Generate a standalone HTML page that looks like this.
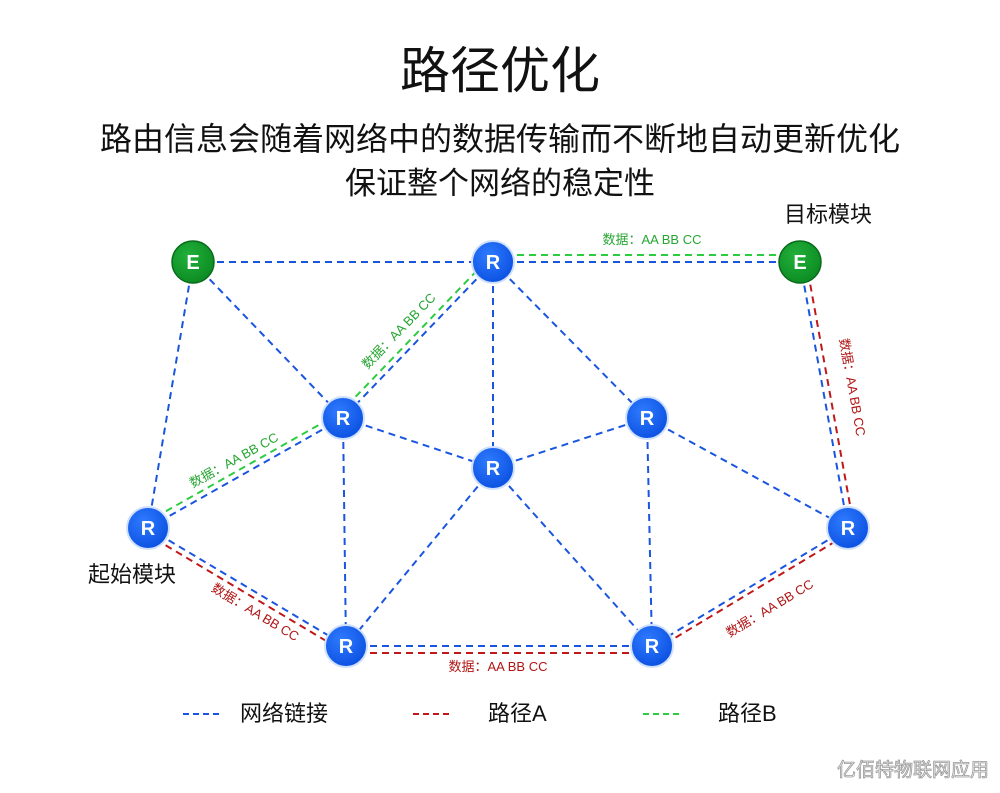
<!DOCTYPE html>
<html><head><meta charset="utf-8"><style>
body{margin:0;width:1000px;height:793px;background:#fff;overflow:hidden;font-family:"Liberation Sans","Noto Sans CJK SC",sans-serif}
</style></head><body>
<svg width="1000" height="793" xmlns="http://www.w3.org/2000/svg" style="position:absolute;left:0;top:0">
<defs>
<radialGradient id="gb" cx="40%" cy="35%" r="70%"><stop offset="0" stop-color="#2f7bff"/><stop offset="1" stop-color="#0a4fe0"/></radialGradient>
<radialGradient id="gg" cx="40%" cy="35%" r="70%"><stop offset="0" stop-color="#22b03a"/><stop offset="1" stop-color="#0b8a22"/></radialGradient>
</defs>
<text x="500" y="88" text-anchor="middle" font-size="50" fill="#111" font-family="Liberation Sans,Noto Sans CJK SC,sans-serif">路径优化</text>
<text x="500" y="150" text-anchor="middle" font-size="32" fill="#111" font-family="Liberation Sans,Noto Sans CJK SC,sans-serif">路由信息会随着网络中的数据传输而不断地自动更新优化</text>
<text x="500" y="194" text-anchor="middle" font-size="31" fill="#111" font-family="Liberation Sans,Noto Sans CJK SC,sans-serif">保证整个网络的稳定性</text>
<g stroke="#1a55e0" stroke-width="2" stroke-dasharray="7,5" fill="none">
<line x1="193" y1="262" x2="493" y2="262"/>
<line x1="193" y1="262" x2="343" y2="418"/>
<line x1="193" y1="262" x2="148" y2="528"/>
<line x1="493" y1="262" x2="800" y2="262"/>
<line x1="493" y1="262" x2="343" y2="418"/>
<line x1="493" y1="262" x2="493" y2="468"/>
<line x1="493" y1="262" x2="647" y2="418"/>
<line x1="800" y1="262" x2="848" y2="528"/>
<line x1="343" y1="418" x2="148" y2="528"/>
<line x1="343" y1="418" x2="493" y2="468"/>
<line x1="343" y1="418" x2="346" y2="646"/>
<line x1="493" y1="468" x2="647" y2="418"/>
<line x1="493" y1="468" x2="346" y2="646"/>
<line x1="493" y1="468" x2="652" y2="646"/>
<line x1="647" y1="418" x2="652" y2="646"/>
<line x1="647" y1="418" x2="848" y2="528"/>
<line x1="848" y1="528" x2="652" y2="646"/>
<line x1="148" y1="528" x2="346" y2="646"/>
<line x1="346" y1="646" x2="652" y2="646"/>
</g>
<g stroke="#2ecc40" stroke-width="2" stroke-dasharray="7,5" fill="none">
<line x1="145" y1="523" x2="340" y2="413"/>
<line x1="339" y1="414" x2="489" y2="258"/>
<line x1="493" y1="255" x2="800" y2="255"/>
</g>
<g stroke="#c01818" stroke-width="2" stroke-dasharray="7,5" fill="none">
<line x1="145" y1="533" x2="343" y2="651"/>
<line x1="346" y1="653" x2="652" y2="653"/>
<line x1="655" y1="650" x2="851" y2="532"/>
<line x1="806" y1="261" x2="854" y2="527"/>
</g>
<g font-size="13" font-family="Liberation Sans,Noto Sans CJK SC,sans-serif">
<text fill="#27a532" transform="translate(236,464) rotate(-29)" text-anchor="middle">数据：AA BB CC</text>
<text fill="#27a532" transform="translate(402,334) rotate(-46)" text-anchor="middle">数据：AA BB CC</text>
<text fill="#27a532" x="652" y="244" text-anchor="middle">数据：AA BB CC</text>
<text fill="#b01515" transform="translate(253,616) rotate(31)" text-anchor="middle">数据：AA BB CC</text>
<text fill="#b01515" x="498" y="671" text-anchor="middle">数据：AA BB CC</text>
<text fill="#b01515" transform="translate(772,612) rotate(-31)" text-anchor="middle">数据：AA BB CC</text>
<text fill="#b01515" transform="translate(848,388) rotate(80)" text-anchor="middle">数据：AA BB CC</text>
</g>
<g font-weight="bold" font-size="20" fill="#fff" text-anchor="middle" font-family="Liberation Sans,sans-serif">
<g stroke="#cfe0ff" stroke-width="2">
<circle cx="493" cy="262" r="21" fill="url(#gb)"/>
<circle cx="343" cy="418" r="21" fill="url(#gb)"/>
<circle cx="493" cy="468" r="21" fill="url(#gb)"/>
<circle cx="647" cy="418" r="21" fill="url(#gb)"/>
<circle cx="148" cy="528" r="21" fill="url(#gb)"/>
<circle cx="848" cy="528" r="21" fill="url(#gb)"/>
<circle cx="346" cy="646" r="21" fill="url(#gb)"/>
<circle cx="652" cy="646" r="21" fill="url(#gb)"/>
</g>
<circle cx="193" cy="262" r="21" fill="url(#gg)" stroke="#0a6b1a" stroke-width="1.5"/>
<circle cx="800" cy="262" r="21" fill="url(#gg)" stroke="#0a6b1a" stroke-width="1.5"/>
<text x="493" y="269">R</text><text x="343" y="425">R</text><text x="493" y="475">R</text><text x="647" y="425">R</text>
<text x="148" y="535">R</text><text x="848" y="535">R</text><text x="346" y="653">R</text><text x="652" y="653">R</text>
<text x="193" y="269">E</text><text x="800" y="269">E</text>
</g>
<g font-size="22" fill="#111" font-family="Liberation Sans,Noto Sans CJK SC,sans-serif">
<text x="828" y="222" text-anchor="middle">目标模块</text>
<text x="132" y="582" text-anchor="middle">起始模块</text>
<text x="240" y="721">网络链接</text>
<text x="488" y="721">路径A</text>
<text x="718" y="721">路径B</text>
</g>
<line x1="183" y1="714" x2="222" y2="714" stroke="#1a55e0" stroke-width="2" stroke-dasharray="6,4"/>
<line x1="413" y1="714" x2="452" y2="714" stroke="#c01818" stroke-width="2" stroke-dasharray="6,4"/>
<line x1="643" y1="714" x2="682" y2="714" stroke="#2ecc40" stroke-width="2" stroke-dasharray="6,4"/>
<text x="989" y="776" text-anchor="end" font-size="19" fill="#f4f4f4" stroke="#999" stroke-width="0.8" font-family="Liberation Sans,Noto Sans CJK SC,sans-serif">亿佰特物联网应用</text>
</svg>
</body></html>
